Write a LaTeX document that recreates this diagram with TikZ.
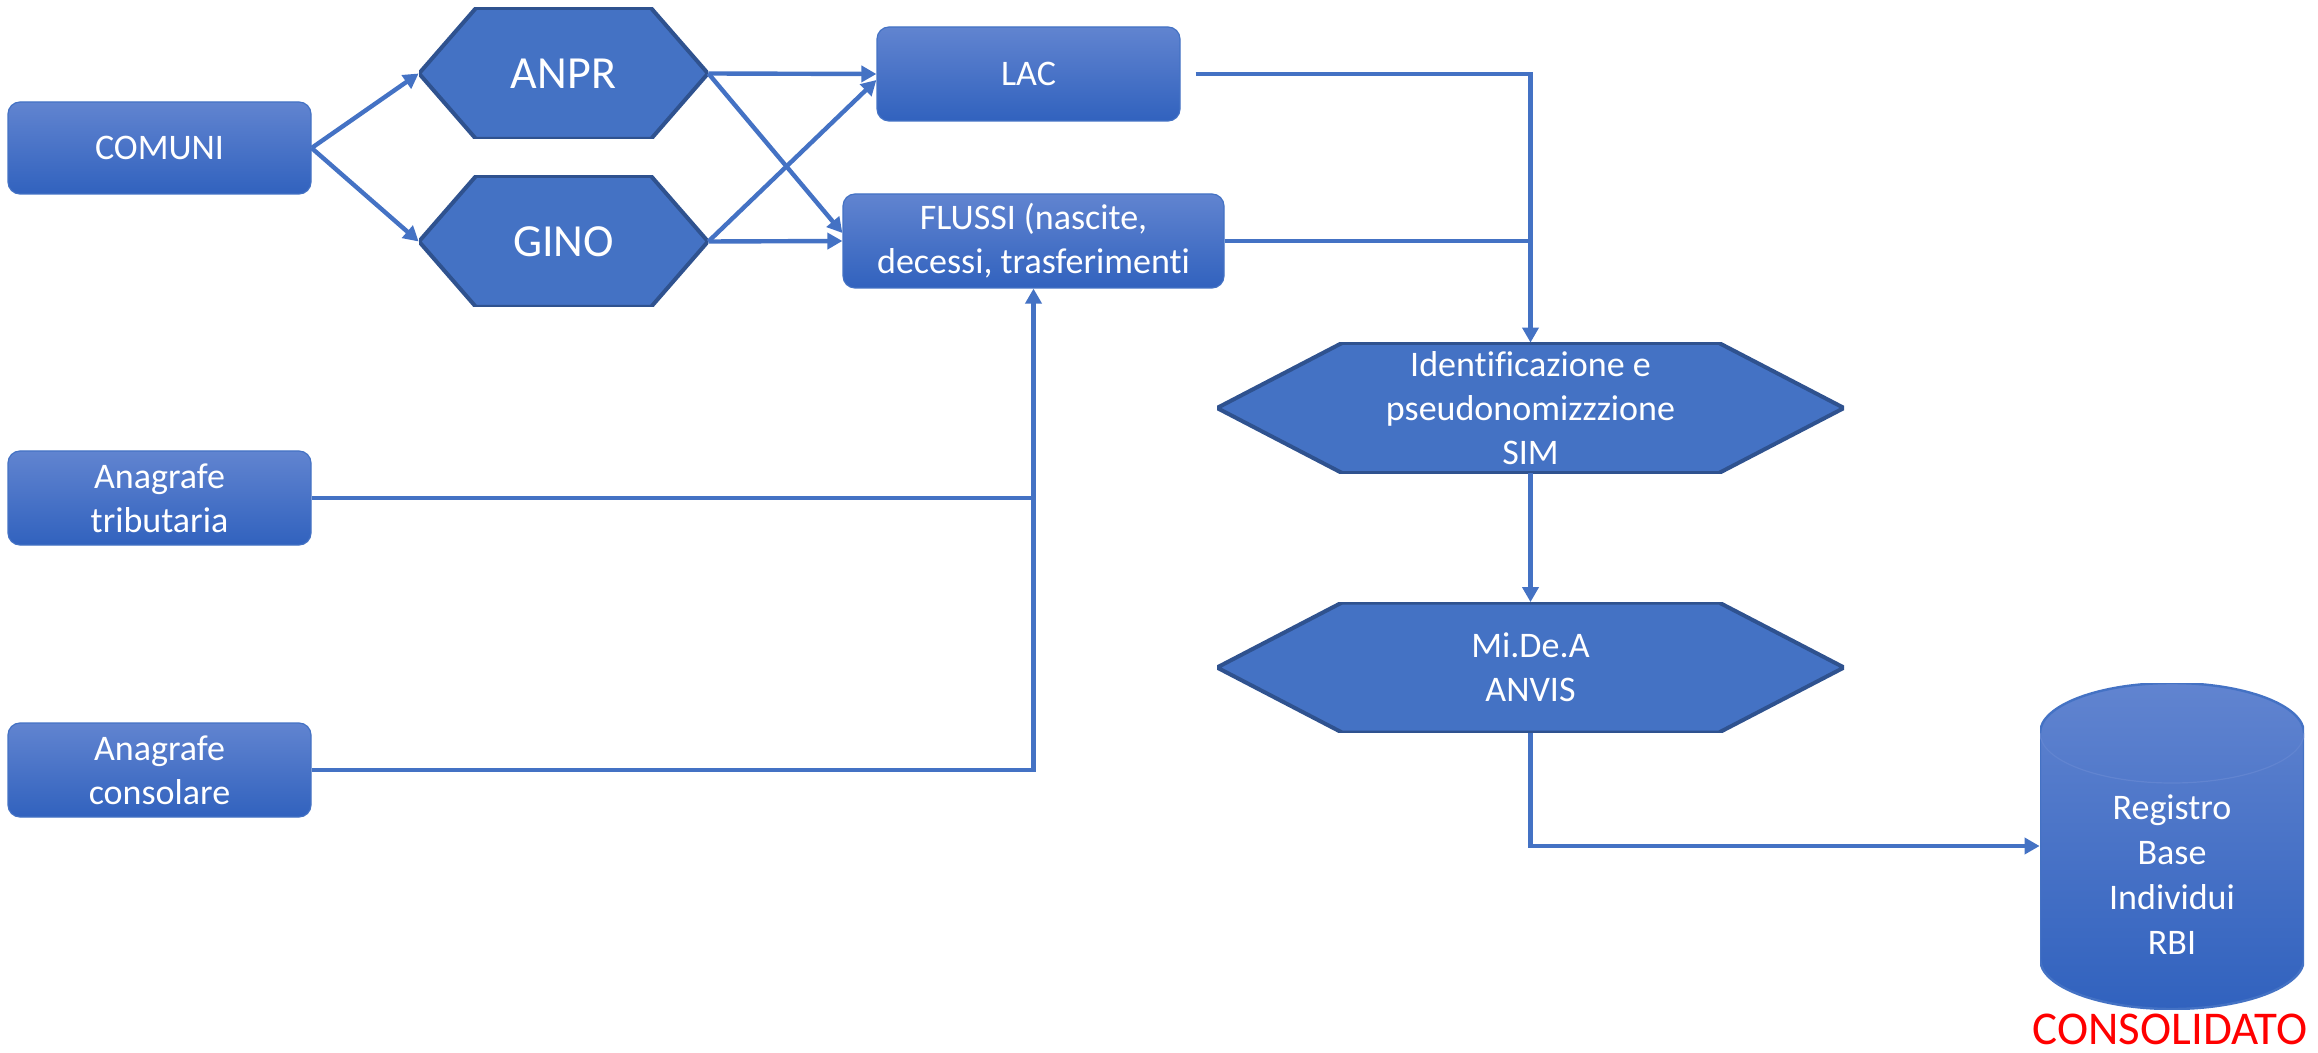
\documentclass[tikz,border=0pt]{standalone}
\usepackage{fontspec}
\setmainfont{Carlito}[Ligatures=NoCommon]
\usetikzlibrary{arrows.meta}
\definecolor{lineblue}{RGB}{68,114,196}
\definecolor{hexedge}{RGB}{47,82,143}
\definecolor{boxtop}{RGB}{97,132,208}
\definecolor{boxbot}{RGB}{49,98,190}
\tikzset{
  box/.style={rounded corners=6pt, top color=boxtop, bottom color=boxbot, draw=lineblue,
    line width=0.6pt, text=white, align=center, inner sep=0pt,
    minimum width=151.5pt, minimum height=47pt, font=\fontsize{18}{22}\selectfont},
  hexnode/.style={inner sep=0pt, text=white, align=center,
    path picture={\filldraw[fill=lineblue, draw=hexedge, line width=2pt]
      (path picture bounding box.west)
      -- ([xshift=#1]path picture bounding box.north west)
      -- ([xshift=-#1]path picture bounding box.north east)
      -- (path picture bounding box.east)
      -- ([xshift=-#1]path picture bounding box.south east)
      -- ([xshift=#1]path picture bounding box.south west) -- cycle;}},
  bighex/.style={hexnode=28.5pt, minimum width=144.5pt, minimum height=65.5pt,
    font=\fontsize{23}{27}\selectfont},
  widehex/.style={hexnode=62.5pt, minimum width=313.5pt, minimum height=65pt,
    font=\fontsize{18}{22}\selectfont},
  store/.style={minimum width=132pt, minimum height=163pt, inner sep=0pt,
    text=white, align=center, font=\fontsize{18}{22.5}\selectfont,
    path picture={
      \shadedraw[top color=boxtop, bottom color=boxbot, draw=lineblue, line width=1.2pt]
        ([yshift=-25pt]path picture bounding box.north west)
        -- ([yshift=25pt]path picture bounding box.south west)
        arc[start angle=180, end angle=360, x radius=66pt, y radius=25pt]
        -- ([yshift=-25pt]path picture bounding box.north east)
        arc[start angle=0, end angle=180, x radius=66pt, y radius=25pt] -- cycle;
      \draw[boxtop, line width=0.6pt] ([yshift=-25pt]path picture bounding box.north west)
        arc[start angle=180, end angle=360, x radius=66pt, y radius=25pt];}},
  flow/.style={draw=lineblue, line width=2.2pt},
  arr/.style={flow, -{Triangle[length=7.5pt,width=8pt]}},
}
\begin{document}
\begin{tikzpicture}[x=0.5pt,y=-0.5pt]
\useasboundingbox (0,0) rectangle (2318,1053);

% sorgenti
\node[box, minimum height=46pt] (comuni) at (159.5,148) {COMUNI};
\node[box] (trib) at (159.5,498) {Anagrafe\\tributaria};
\node[box] (cons) at (159.5,770) {Anagrafe\\consolare};

% anagrafi
\node[bighex] (anpr) at (563.5,73.5) {ANPR};
\node[bighex] (gino) at (563.5,241.5) {GINO};

\node[box] (lac) at (1028.5,74) {LAC};
\node[box, minimum width=190.5pt] (flussi) at (1033.5,241) {FLUSSI (nascite,\\decessi, trasferimenti};

% trattamento
\node[widehex] (ident) at (1530.5,408) {Identificazione e\\pseudonomizzzione\\SIM};
\node[widehex] (mida) at (1530.5,667.5) {Mi.De.A\\ANVIS};

\node[store] (rbi) at (2172,846) {\rule{0pt}{41pt}Registro\\Base\\Individui\\RBI};
\node[anchor=base, text=red, font=\fontsize{23.5}{28}\selectfont] (consolidato) at (2170,1044) {CONSOLIDATO};

% collegamenti
\draw[arr] (comuni.east) -- (anpr.west);
\draw[arr] (comuni.east) -- (gino.west);
\draw[arr] (anpr.east) -- (lac.west);
\draw[arr] (anpr.east) -- ([yshift=4pt]flussi.west);
\draw[arr] (gino.east) -- ([yshift=-3pt]lac.west);
\draw[arr] (gino.east) -- (flussi.west);
\draw[arr] ([xshift=7.5pt]lac.east) -| (ident.north);
\draw[flow] (flussi.east) -- (flussi.east -| ident.north);
\draw[flow] (trib.east) -- (trib.east -| flussi.south);
\draw[arr] (cons.east) -| (flussi.south);
\draw[arr] (ident.south) -- (mida.north);
\draw[arr] (mida.south) |- (rbi.west);
\end{tikzpicture}
\end{document}
